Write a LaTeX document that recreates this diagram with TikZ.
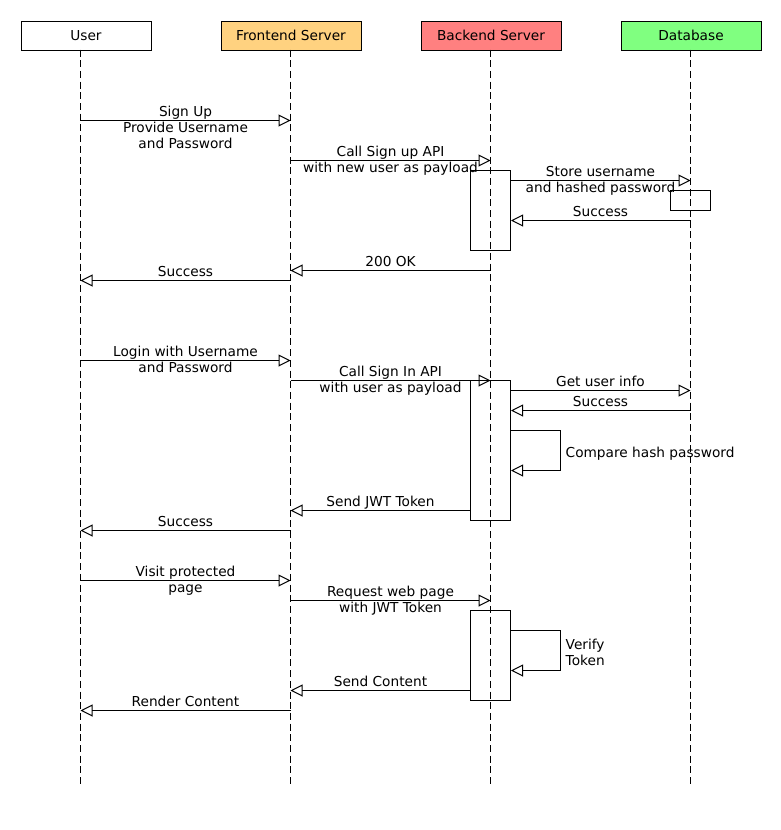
\documentclass[tikz,border=0pt]{standalone}
\usepackage{fontspec}
\setmainfont{DejaVu Sans}
\usetikzlibrary{arrows.meta}

\definecolor{frontfill}{HTML}{FFD280}
\definecolor{backfill}{HTML}{FF8080}
\definecolor{dbfill}{HTML}{80FF80}

\begin{document}
\begin{tikzpicture}[x=1pt,y=-1pt,
  every node/.style={font=\fontsize{13.7}{15.8}\selectfont},
  actor/.style={draw, line width=1pt, minimum height=29pt, inner sep=0pt, anchor=north west},
  lifeline/.style={line width=1pt, dash pattern=on 7pt off 3.7pt},
  act/.style={draw, line width=1pt, inner sep=0pt, minimum width=40pt},
  msg/.style={line width=1pt, -{Triangle[open,length=12pt,width=12pt]}},
  lbl/.style={anchor=base, align=center, inner sep=0pt},
  note/.style={anchor=base west, align=left, inner sep=0pt}]

\useasboundingbox (-0.5,-0.5) rectangle (779.5,829.5);

% participants
\node[actor, minimum width=130pt] (user) at (20,20) {User};
\node[actor, minimum width=140pt, fill=frontfill] (front) at (220,20) {Frontend Server};
\node[actor, minimum width=140pt, fill=backfill] (back) at (420,20) {Backend Server};
\node[actor, minimum width=140pt, fill=dbfill] (db) at (620,20) {Database};

% lifeline tops and common bottom
\coordinate (U) at (80,49);
\coordinate (F) at (290,49);
\coordinate (B) at (490,49);
\coordinate (D) at (690,49);
\coordinate (bottom) at (0,787);

\draw[lifeline] (U) -- (U |- bottom);
\draw[lifeline] (F) -- (F |- bottom);
\draw[lifeline] (B) -- (B |- bottom);
\draw[lifeline] (D) -- (D |- bottom);

% activation bars
\node[act, minimum height=80pt] (a1) at (490,210) {};
\node[act, minimum width=40pt, minimum height=20pt] (dbx) at (690,200) {};
\node[act, minimum height=140pt] (a2) at (490,450) {};
\node[act, minimum height=90pt] (a3) at (490,655) {};

% message rows
\coordinate (m1) at (0,120);
\coordinate (m2) at (0,160);
\coordinate (m3) at (0,180);
\coordinate (m4) at (0,220);
\coordinate (m5) at (0,270);
\coordinate (m6) at (0,280);
\coordinate (m7) at (0,360);
\coordinate (m8) at (0,380);
\coordinate (m9) at (0,390);
\coordinate (m10) at (0,410);
\coordinate (m11) at (0,430);
\coordinate (m12) at (0,470);
\coordinate (m13) at (0,510);
\coordinate (m14) at (0,530);
\coordinate (m15) at (0,580);
\coordinate (m16) at (0,600);
\coordinate (m17) at (0,630);
\coordinate (m18) at (0,670);
\coordinate (m19) at (0,690);
\coordinate (m20) at (0,710);
\coordinate (loopx) at (560,0);

% label positions give the baseline of the last line of each label

% sign up
\draw[msg] (U |- m1) -- (F |- m1);
\node[lbl] (t1) at (185,147.6) {Sign Up\\Provide Username\\and Password};
\draw[msg] (F |- m2) -- (B |- m2);
\node[lbl] (t2) at (390,171.8) {Call Sign up API\\with new user as payload};
\draw[msg] (a1.east |- m3) -- (D |- m3);
\node[lbl] (t3) at (600,191.8) {Store username\\and hashed password};
\draw[msg] (D |- m4) -- (a1.east |- m4);
\node[lbl] (t4) at (600,216) {Success};
\draw[msg] (B |- m5) -- (F |- m5);
\node[lbl] (t5) at (390,266) {200 OK};
\draw[msg] (F |- m6) -- (U |- m6);
\node[lbl] (t6) at (185,276) {Success};

% login
\draw[msg] (U |- m7) -- (F |- m7);
\node[lbl] (t7) at (185,371.8) {Login with Username\\and Password};
\draw[msg] (F |- m8) -- (B |- m8);
\node[lbl] (t8) at (390,391.8) {Call Sign In API\\with user as payload};
\draw[msg] (a2.east |- m9) -- (D |- m9);
\node[lbl] (t9) at (600,386) {Get user info};
\draw[msg] (D |- m10) -- (a2.east |- m10);
\node[lbl] (t10) at (600,406) {Success};
\draw[msg] (a2.east |- m11) -- (loopx |- m11) -- (loopx |- m12) -- (a2.east |- m12);
\node[note] (t11) at (565,457) {Compare hash password};
\draw[msg] (a2.west |- m13) -- (F |- m13);
\node[lbl] (t12) at (380,506) {Send JWT Token};
\draw[msg] (F |- m14) -- (U |- m14);
\node[lbl] (t13) at (185,526) {Success};

% protected page
\draw[msg] (U |- m15) -- (F |- m15);
\node[lbl] (t14) at (185,591.8) {Visit protected\\page};
\draw[msg] (F |- m16) -- (B |- m16);
\node[lbl] (t15) at (390,611.8) {Request web page\\with JWT Token};
\draw[msg] (a3.east |- m17) -- (loopx |- m17) -- (loopx |- m18) -- (a3.east |- m18);
\node[note] (t16) at (565,664.8) {Verify\\Token};
\draw[msg] (a3.west |- m19) -- (F |- m19);
\node[lbl] (t17) at (380,686) {Send Content};
\draw[msg] (F |- m20) -- (U |- m20);
\node[lbl] (t18) at (185,706) {Render Content};

\end{tikzpicture}
\end{document}
